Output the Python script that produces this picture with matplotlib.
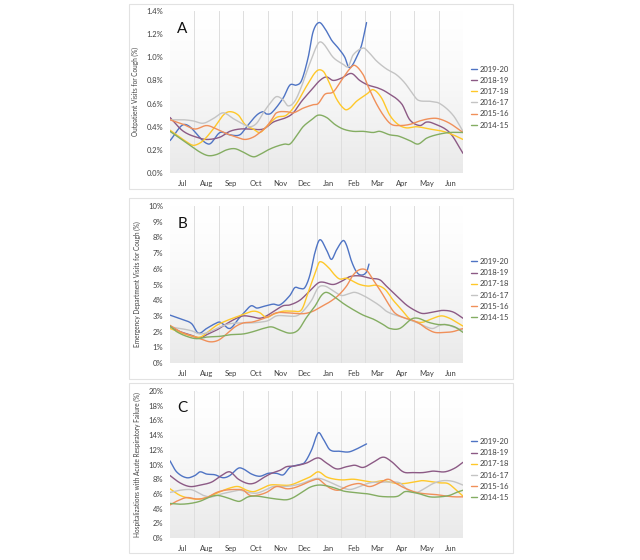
import numpy as np
import matplotlib
matplotlib.use("Agg")
import matplotlib.pyplot as plt
from matplotlib.patches import Rectangle

plt.rcParams['font.family'] = ['Lato', 'DejaVu Sans']

months = ["Jul", "Aug", "Sep", "Oct", "Nov", "Dec", "Jan", "Feb", "Mar", "Apr", "May", "Jun"]
seasons = ["2019-20", "2018-19", "2017-18", "2016-17", "2015-16", "2014-15"]
colors = ["#4f74c4", "#8c5a85", "#ffc82a", "#c4c4c4", "#f0905a", "#84ad62"]

# ---------- Panel A: outpatient visits for cough (%) ; x = months since Jul 1
opd_1920_m = [0, 0.61, 1.57, 2.05, 2.45, 2.86, 3.14, 3.55, 3.82, 3.95, 4.16, 4.64, 4.91, 5.18, 5.39, 5.66, 5.86, 6.10, 6.34, 6.61, 6.89, 7.16, 7.30, 7.43, 7.64, 7.84, 8.05]
opd_1920_v = [0.28, 0.42, 0.25, 0.35, 0.33, 0.33, 0.40, 0.50, 0.53, 0.51, 0.52, 0.65, 0.76, 0.76, 0.80, 1.00, 1.22, 1.30, 1.25, 1.15, 1.08, 1.00, 0.92, 0.92, 1.00, 1.10, 1.30]
opd_1819_m = [0, 0.55, 1.23, 1.57, 2.05, 2.45, 2.86, 3.27, 3.82, 4.23, 4.77, 5.05, 5.39, 5.80, 6.14, 6.41, 6.68, 7.02, 7.43, 7.77, 8.11, 8.45, 8.86, 9.48, 9.82, 10.23, 10.50, 10.77, 11.45, 12.0]
opd_1819_v = [0.48, 0.36, 0.30, 0.29, 0.31, 0.36, 0.38, 0.38, 0.38, 0.44, 0.48, 0.52, 0.62, 0.72, 0.80, 0.83, 0.80, 0.82, 0.86, 0.80, 0.76, 0.74, 0.70, 0.60, 0.46, 0.41, 0.44, 0.43, 0.35, 0.17]
opd_1718_m = [0, 0.82, 1.02, 1.36, 1.77, 2.18, 2.45, 2.80, 3.07, 3.41, 3.68, 3.95, 4.36, 4.77, 5.18, 5.59, 6.00, 6.27, 6.48, 6.82, 7.16, 7.36, 7.64, 8.05, 8.32, 8.66, 9.00, 9.34, 9.68, 10.09, 10.64, 11.18, 11.59, 12.0]
opd_1718_v = [0.37, 0.25, 0.24, 0.28, 0.38, 0.50, 0.53, 0.50, 0.42, 0.38, 0.35, 0.40, 0.48, 0.50, 0.60, 0.75, 0.88, 0.88, 0.80, 0.64, 0.55, 0.56, 0.62, 0.68, 0.72, 0.65, 0.50, 0.42, 0.39, 0.40, 0.38, 0.36, 0.33, 0.29]
opd_1617_m = [0, 0.55, 0.95, 1.36, 1.77, 2.18, 2.59, 2.93, 3.27, 3.55, 3.82, 4.09, 4.36, 4.64, 4.84, 5.11, 5.39, 5.73, 6.07, 6.27, 6.68, 7.09, 7.30, 7.50, 7.91, 8.11, 8.45, 8.86, 9.27, 9.61, 9.89, 10.16, 10.64, 11.05, 11.59, 12.0]
opd_1617_v = [0.46, 0.46, 0.45, 0.43, 0.47, 0.52, 0.47, 0.43, 0.40, 0.43, 0.52, 0.60, 0.66, 0.63, 0.58, 0.62, 0.75, 0.95, 1.12, 1.12, 1.00, 0.94, 0.92, 1.02, 1.08, 1.05, 0.97, 0.90, 0.85, 0.78, 0.70, 0.63, 0.62, 0.60, 0.50, 0.36]
opd_1516_m = [0, 0.55, 1.02, 1.50, 1.91, 2.32, 2.73, 3.07, 3.41, 3.68, 3.95, 4.16, 4.36, 4.77, 5.05, 5.45, 5.86, 6.07, 6.34, 6.68, 7.02, 7.36, 7.57, 7.91, 8.11, 8.45, 8.80, 9.07, 9.41, 9.82, 10.23, 10.64, 10.98, 11.45, 12.0]
opd_1516_v = [0.46, 0.42, 0.38, 0.41, 0.38, 0.34, 0.31, 0.29, 0.31, 0.35, 0.40, 0.46, 0.52, 0.53, 0.52, 0.56, 0.59, 0.60, 0.68, 0.70, 0.80, 0.90, 0.93, 0.85, 0.75, 0.60, 0.48, 0.42, 0.41, 0.42, 0.45, 0.47, 0.47, 0.43, 0.35]
opd_1415_m = [0, 0.41, 0.82, 1.23, 1.57, 1.91, 2.32, 2.66, 3.00, 3.41, 3.68, 4.02, 4.36, 4.70, 4.91, 5.18, 5.45, 5.80, 6.07, 6.41, 6.75, 7.09, 7.50, 7.91, 8.32, 8.59, 9.00, 9.34, 9.82, 10.16, 10.50, 10.91, 11.45, 12.0]
opd_1415_v = [0.36, 0.30, 0.24, 0.18, 0.15, 0.16, 0.20, 0.21, 0.18, 0.14, 0.16, 0.20, 0.23, 0.25, 0.25, 0.32, 0.40, 0.46, 0.50, 0.48, 0.42, 0.38, 0.36, 0.36, 0.35, 0.36, 0.33, 0.32, 0.28, 0.25, 0.30, 0.33, 0.35, 0.35]

# ---------- Panel B: emergency department visits for cough (%)
ed_1920_m = [0, 0.55, 0.89, 1.16, 1.50, 1.84, 2.05, 2.45, 2.80, 3.14, 3.34, 3.55, 3.82, 4.23, 4.50, 4.91, 5.11, 5.32, 5.52, 5.73, 5.93, 6.14, 6.41, 6.61, 6.82, 7.09, 7.23, 7.43, 7.64, 7.84, 8.05, 8.15]
ed_1920_v = [3.05, 2.75, 2.5, 1.9, 2.2, 2.5, 2.6, 2.2, 2.8, 3.4, 3.65, 3.5, 3.6, 3.75, 3.7, 4.3, 4.8, 4.75, 4.8, 5.6, 7.0, 7.85, 7.2, 6.6, 7.2, 7.8, 7.5, 6.5, 5.8, 5.6, 5.8, 6.3]
ed_1819_m = [0, 0.41, 0.82, 1.23, 1.50, 1.91, 2.32, 2.66, 3.00, 3.34, 3.68, 3.95, 4.36, 4.64, 4.91, 5.32, 5.73, 6.07, 6.27, 6.68, 7.02, 7.36, 7.77, 8.18, 8.59, 8.86, 9.27, 9.68, 10.09, 10.36, 10.77, 11.18, 11.59, 12.0]
ed_1819_v = [2.3, 2.0, 1.8, 1.6, 1.8, 2.1, 2.5, 2.8, 3.0, 2.95, 2.85, 3.0, 3.4, 3.65, 3.7, 4.0, 4.6, 5.1, 5.15, 5.0, 5.2, 5.5, 5.55, 5.4, 5.3, 4.9, 4.3, 3.7, 3.3, 3.15, 3.25, 3.35, 3.25, 2.85]
ed_1718_m = [0, 0.41, 0.82, 1.23, 1.57, 1.91, 2.32, 2.66, 3.00, 3.41, 3.68, 3.95, 4.23, 4.64, 5.05, 5.39, 5.66, 6.00, 6.14, 6.48, 6.75, 6.95, 7.23, 7.50, 7.77, 8.11, 8.45, 8.80, 9.14, 9.48, 9.82, 10.16, 10.36, 10.70, 11.11, 11.45, 11.73, 12.0]
ed_1718_v = [2.2, 1.95, 1.75, 1.65, 2.0, 2.4, 2.7, 2.9, 3.1, 3.3, 3.2, 2.9, 3.1, 3.3, 3.3, 3.4, 4.5, 6.0, 6.45, 6.1, 5.6, 5.35, 5.4, 5.2, 5.0, 4.9, 4.95, 4.7, 4.0, 3.4, 2.8, 2.6, 2.6, 2.8, 3.0, 2.85, 2.6, 2.35]
ed_1617_m = [0, 0.41, 0.89, 1.23, 1.64, 2.05, 2.45, 2.86, 3.27, 3.68, 4.02, 4.36, 4.77, 5.18, 5.45, 5.80, 6.07, 6.34, 6.68, 7.02, 7.30, 7.57, 7.91, 8.25, 8.59, 8.86, 9.14, 9.55, 9.89, 10.23, 10.50, 10.77, 11.05, 11.32, 11.59, 12.0]
ed_1617_v = [2.3, 2.2, 2.05, 1.85, 2.0, 2.3, 2.5, 2.55, 2.55, 2.6, 2.7, 3.0, 3.0, 3.0, 3.3, 4.0, 4.8, 4.9, 4.6, 4.3, 4.4, 4.5, 4.3, 4.0, 3.65, 3.3, 3.1, 2.9, 2.7, 2.5, 2.3, 2.2, 2.4, 2.45, 2.3, 2.1]
ed_1516_m = [0, 0.41, 0.82, 1.23, 1.64, 1.98, 2.32, 2.66, 3.00, 3.34, 3.68, 4.02, 4.36, 4.77, 5.18, 5.52, 5.86, 6.20, 6.55, 6.89, 7.23, 7.50, 7.77, 8.05, 8.32, 8.66, 8.93, 9.20, 9.55, 9.89, 10.23, 10.50, 10.84, 11.25, 11.59, 12.0]
ed_1516_v = [2.4, 2.0, 1.75, 1.55, 1.35, 1.45, 1.85, 2.3, 2.55, 2.6, 2.75, 2.95, 3.2, 3.2, 3.15, 3.15, 3.3, 3.6, 3.9, 4.3, 4.9, 5.6, 5.95, 5.9, 5.3, 4.5, 3.8, 3.2, 2.9, 2.75, 2.5, 2.2, 1.95, 1.95, 2.0, 2.2]
ed_1415_m = [0, 0.27, 0.68, 1.09, 1.50, 2.05, 2.45, 3.00, 3.41, 3.82, 4.16, 4.50, 4.91, 5.25, 5.59, 5.93, 6.20, 6.41, 6.75, 7.09, 7.50, 7.91, 8.32, 8.73, 9.00, 9.41, 9.89, 10.16, 10.57, 10.98, 11.25, 11.66, 12.0]
ed_1415_v = [2.35, 2.0, 1.7, 1.55, 1.65, 1.7, 1.8, 1.85, 2.0, 2.2, 2.3, 2.1, 1.9, 2.1, 2.9, 3.6, 4.3, 4.5, 4.2, 3.8, 3.4, 3.05, 2.8, 2.45, 2.2, 2.2, 2.8, 2.85, 2.6, 2.45, 2.45, 2.3, 1.95]

# ---------- Panel C: hospitalizations with acute respiratory failure (%)
arf_1920_m = [0, 0.27, 0.68, 1.02, 1.23, 1.50, 1.84, 2.18, 2.45, 2.80, 3.00, 3.34, 3.68, 4.02, 4.36, 4.64, 4.91, 5.32, 5.52, 5.80, 6.07, 6.27, 6.55, 6.95, 7.30, 7.57, 8.05]
arf_1920_v = [10.5, 9.0, 8.2, 8.5, 9.0, 8.7, 8.6, 8.2, 8.5, 9.5, 9.4, 8.7, 8.4, 8.8, 8.8, 8.6, 9.6, 10.0, 10.3, 12.0, 14.3, 13.5, 12.0, 11.8, 11.7, 12.0, 12.8]
arf_1819_m = [0, 0.41, 0.82, 1.23, 1.70, 2.11, 2.45, 2.80, 3.20, 3.48, 3.82, 4.16, 4.50, 4.77, 5.11, 5.59, 6.07, 6.41, 6.82, 7.23, 7.57, 7.91, 8.32, 8.73, 9.07, 9.55, 9.95, 10.36, 10.77, 11.25, 11.66, 12.0]
arf_1819_v = [8.5, 7.5, 7.0, 7.2, 7.6, 8.5, 9.0, 8.0, 7.4, 7.5, 8.2, 8.8, 9.2, 9.7, 9.8, 10.2, 10.9, 10.2, 9.4, 9.7, 9.9, 9.6, 10.3, 11.0, 10.4, 9.0, 8.9, 8.9, 9.1, 9.0, 9.5, 10.3]
arf_1718_m = [0, 0.41, 0.82, 1.23, 1.64, 1.98, 2.45, 2.80, 3.14, 3.41, 3.68, 4.09, 4.50, 4.91, 5.32, 5.73, 6.07, 6.41, 6.75, 7.09, 7.50, 7.91, 8.32, 8.73, 9.14, 9.55, 9.95, 10.30, 10.64, 11.05, 11.39, 11.73, 12.0]
arf_1718_v = [6.7, 5.8, 5.4, 5.3, 5.7, 6.2, 6.8, 7.0, 6.5, 6.3, 6.6, 7.2, 7.2, 7.2, 7.7, 8.3, 9.0, 8.3, 8.0, 7.9, 8.0, 7.8, 7.6, 7.8, 7.5, 7.4, 7.6, 7.8, 7.7, 7.5, 7.4, 6.5, 5.7]
arf_1617_m = [0, 0.41, 0.82, 1.02, 1.36, 1.70, 2.11, 2.52, 2.86, 3.20, 3.55, 3.89, 4.23, 4.64, 4.98, 5.39, 5.86, 6.14, 6.55, 6.95, 7.36, 7.77, 8.18, 8.59, 9.00, 9.41, 9.75, 10.09, 10.36, 10.77, 11.18, 11.59, 12.0]
arf_1617_v = [6.2, 6.5, 6.6, 6.4, 5.8, 5.6, 6.0, 6.3, 6.5, 6.2, 6.1, 6.5, 7.0, 7.0, 7.1, 7.4, 8.0, 8.1, 7.6, 7.0, 6.6, 7.0, 7.5, 7.6, 7.6, 7.5, 6.5, 6.2, 6.6, 7.4, 7.8, 7.7, 7.2]
arf_1516_m = [0, 0.27, 0.68, 1.09, 1.50, 1.91, 2.25, 2.66, 3.00, 3.27, 3.55, 3.95, 4.36, 4.77, 5.05, 5.39, 5.73, 6.07, 6.27, 6.55, 6.89, 7.23, 7.50, 7.77, 8.18, 8.59, 8.93, 9.27, 9.61, 10.09, 10.50, 10.91, 11.32, 11.66, 12.0]
arf_1516_v = [4.5, 5.0, 5.5, 5.3, 5.5, 6.2, 6.5, 6.6, 6.5, 5.8, 5.8, 6.2, 7.0, 6.7, 6.8, 7.2, 7.7, 8.0, 7.5, 6.8, 6.5, 7.0, 7.3, 7.4, 7.0, 7.5, 8.0, 7.4, 6.8, 6.2, 6.0, 5.9, 5.7, 5.6, 5.6]
arf_1415_m = [0, 0.41, 0.82, 1.23, 1.57, 1.91, 2.32, 2.66, 2.86, 3.20, 3.55, 3.95, 4.36, 4.77, 5.05, 5.39, 5.73, 6.07, 6.41, 6.75, 7.09, 7.50, 7.77, 8.11, 8.52, 9.00, 9.34, 9.61, 9.95, 10.23, 10.64, 11.05, 11.45, 11.73, 12.0]
arf_1415_v = [4.7, 4.6, 4.7, 5.0, 5.5, 5.8, 5.5, 5.1, 5.0, 5.6, 5.7, 5.5, 5.3, 5.2, 5.5, 6.2, 6.9, 7.2, 7.1, 6.8, 6.4, 6.2, 6.1, 6.0, 5.7, 5.6, 5.7, 6.3, 6.2, 6.0, 5.6, 5.6, 5.8, 6.2, 6.5]

panels = [
    dict(letter="A", ylabel="Outpatient Visits for Cough (%)", ymax=1.4, ystep=0.2, fmt="{:.1f}%",
         series=[(opd_1920_m, opd_1920_v), (opd_1819_m, opd_1819_v), (opd_1718_m, opd_1718_v),
                 (opd_1617_m, opd_1617_v), (opd_1516_m, opd_1516_v), (opd_1415_m, opd_1415_v)],
         ax_px=(11, 173), box_px=(4, 189), leg_y=0.469),
    dict(letter="B", ylabel="Emergency Department Visits for Cough (%)", ymax=10, ystep=1, fmt="{:.0f}%",
         series=[(ed_1920_m, ed_1920_v), (ed_1819_m, ed_1819_v), (ed_1718_m, ed_1718_v),
                 (ed_1617_m, ed_1617_v), (ed_1516_m, ed_1516_v), (ed_1415_m, ed_1415_v)],
         ax_px=(206, 363), box_px=(198, 379), leg_y=0.468),
    dict(letter="C", ylabel="Hospitalizations with Acute Respiratory Failure (%)", ymax=20, ystep=2, fmt="{:.0f}%",
         series=[(arf_1920_m, arf_1920_v), (arf_1819_m, arf_1819_v), (arf_1718_m, arf_1718_v),
                 (arf_1617_m, arf_1617_v), (arf_1516_m, arf_1516_v), (arf_1415_m, arf_1415_v)],
         ax_px=(391, 538), box_px=(383, 553), leg_y=0.466),
]


def smooth(x, y, n=12):
    """Cardinal (Catmull-Rom style) cubic Hermite curve through the read points."""
    x = np.asarray(x, float)
    y = np.asarray(y, float)
    m = np.zeros_like(y)
    m[1:-1] = (y[2:] - y[:-2]) / (x[2:] - x[:-2])
    m[0] = (y[1] - y[0]) / (x[1] - x[0])
    m[-1] = (y[-1] - y[-2]) / (x[-1] - x[-2])
    xs, ys = [], []
    for i in range(len(x) - 1):
        h = x[i + 1] - x[i]
        t = np.linspace(0, 1, n, endpoint=False)
        h00 = 2 * t**3 - 3 * t**2 + 1
        h10 = t**3 - 2 * t**2 + t
        h01 = -2 * t**3 + 3 * t**2
        h11 = t**3 - t**2
        xs.append(x[i] + t * h)
        ys.append(h00 * y[i] + h10 * h * m[i] + h01 * y[i + 1] + h11 * h * m[i + 1])
    xs.append([x[-1]])
    ys.append([y[-1]])
    return np.concatenate(xs), np.concatenate(ys)


W, H = 640, 560
fig = plt.figure(figsize=(6.4, 5.6), dpi=100)

L_px, R_px = 170, 463
box_l, box_r = 129, 513

grad = np.linspace(0, 1, 256).reshape(-1, 1)  # 0 bottom -> 1 top

for p in panels:
    top, bot = p["ax_px"]
    ax = fig.add_axes([L_px / W, 1 - bot / H, (R_px - L_px) / W, (bot - top) / H])
    # panel frame
    bt, bb = p["box_px"]
    fig.patches.append(Rectangle((box_l / W, 1 - bb / H), (box_r - box_l) / W, (bb - bt) / H,
                                 transform=fig.transFigure, fill=False, edgecolor="#e2e2e2",
                                 linewidth=0.8, zorder=0))
    # gradient plot background
    shade = 1 - 0.085 * (1 - grad) ** 1.4
    img = np.dstack([shade, shade, shade])
    ax.imshow(img, extent=[0, 12, 0, p["ymax"]], origin="lower", aspect="auto", zorder=0,
              interpolation="bilinear")
    for k in range(1, 12):
        ax.axvline(k, color="#dedede", linewidth=0.7, zorder=1)

    for (mx, vy), lab, c in zip(p["series"], seasons, colors):
        sx, sy = smooth(mx, vy)
        ax.plot(sx, sy, color=c, linewidth=1.0, label=lab, zorder=3, solid_capstyle="round")

    ax.set_xlim(0, 12)
    ax.set_ylim(0, p["ymax"])
    ax.set_xticks(np.arange(12) + 0.5)
    ax.set_xticklabels(months)
    yt = np.arange(0, p["ymax"] + 1e-9, p["ystep"])
    ax.set_yticks(yt)
    ax.set_yticklabels([p["fmt"].format(v) for v in yt])
    ax.tick_params(axis="both", length=0, labelsize=5.5, colors="#404040")
    ax.tick_params(axis="x", pad=5)
    ax.tick_params(axis="y", pad=5)
    for s in ax.spines.values():
        s.set_visible(False)
    ax.set_ylabel(p["ylabel"], fontsize=4.7, color="#404040", labelpad=5)
    ax.text(0.025, 0.93, p["letter"], transform=ax.transAxes, fontsize=11, color="#111111",
            va="top", ha="left")
    ax.legend(loc="center left", bbox_to_anchor=(1.027, p["leg_y"]), frameon=False,
              fontsize=5.5, handlelength=0.8, handletextpad=0.4, labelspacing=0.55,
              borderpad=0, borderaxespad=0, labelcolor="#404040")

fig.savefig("out.png", dpi=100, facecolor="white")
